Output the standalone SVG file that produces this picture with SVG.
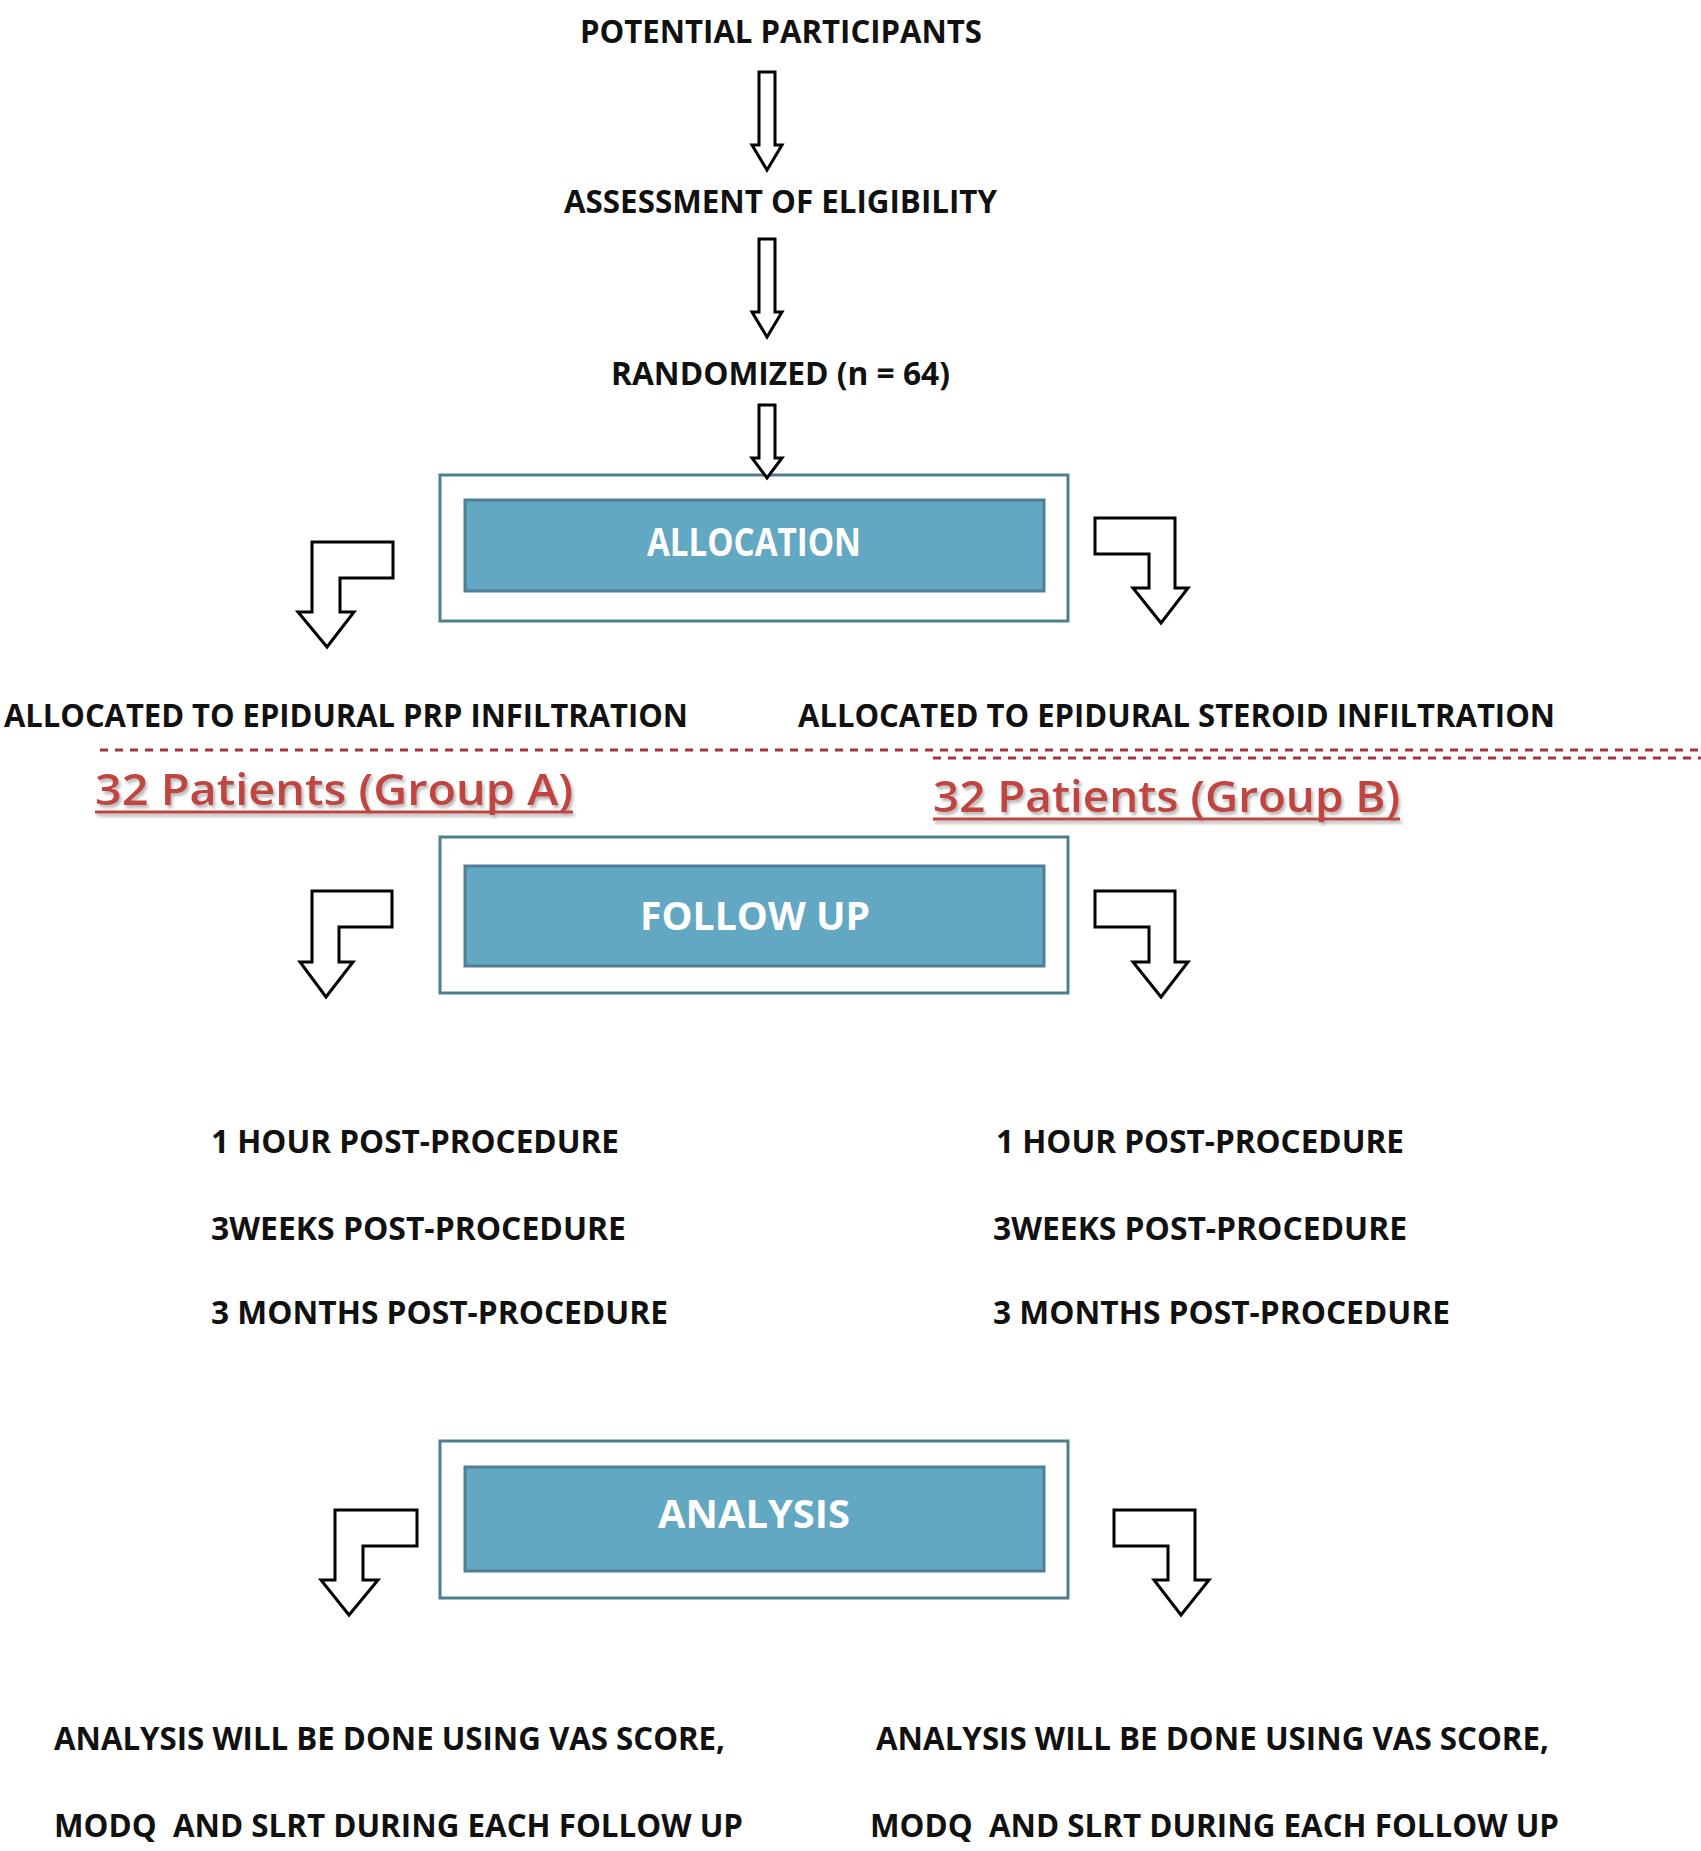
<svg xmlns="http://www.w3.org/2000/svg" width="1701" height="1851" viewBox="0 0 1701 1851">
<style>
.lbl{font-family:"Open Sans","Liberation Sans",sans-serif;font-weight:700;font-size:33px;fill:#111;white-space:pre}
.box-o{fill:#fff;stroke:#4e7f8c;stroke-width:3}
.box-i{fill:#62a8c2;stroke:#4f7f94;stroke-width:3}
.btxt{font-family:"Open Sans","Liberation Sans",sans-serif;font-weight:700;font-size:39px;fill:#fff}
.arr{fill:#fff;stroke:#000;stroke-width:3;stroke-linejoin:miter}
.dash{stroke:#a8323e;stroke-width:3;stroke-dasharray:8 7;fill:none}
.red{font-family:"Open Sans","Liberation Sans",sans-serif;font-weight:600;font-size:43px;fill:#c0443f}
.ul{stroke:#c0443f;stroke-width:3}
</style>
<defs>
<filter id="sh" x="-5%" y="-20%" width="110%" height="150%">
<feDropShadow dx="2" dy="3" stdDeviation="1.5" flood-color="#888" flood-opacity="0.6"/>
</filter>
</defs>
<rect width="1701" height="1851" fill="#fff"/>

<g id="potential"><text class="lbl" x="580" y="43" textLength="402" lengthAdjust="spacingAndGlyphs">POTENTIAL PARTICIPANTS</text></g>
<g id="assessment"><text class="lbl" x="564" y="213" textLength="433" lengthAdjust="spacingAndGlyphs">ASSESSMENT OF ELIGIBILITY</text></g>
<g id="randomized"><text class="lbl" x="611" y="385" textLength="339" lengthAdjust="spacingAndGlyphs">RANDOMIZED (n = 64)</text></g>

<g id="allocation">
<rect class="box-o" x="440" y="475" width="628" height="146"/>
<rect class="box-i" x="465" y="500" width="579" height="91"/>
<text class="btxt" x="647" y="556" textLength="214" lengthAdjust="spacingAndGlyphs">ALLOCATION</text>
</g>

<g id="groupA-label"><text class="lbl" x="4" y="727" textLength="684" lengthAdjust="spacingAndGlyphs">ALLOCATED TO EPIDURAL PRP INFILTRATION</text></g>
<g id="groupB-label"><text class="lbl" x="798" y="727" textLength="757" lengthAdjust="spacingAndGlyphs">ALLOCATED TO EPIDURAL STEROID INFILTRATION</text></g>

<g id="dashes">
<line class="dash" x1="100" y1="750" x2="1701" y2="750"/>
<line class="dash" x1="933" y1="758" x2="1701" y2="758"/>
</g>

<g id="groupA" filter="url(#sh)">
<text class="red" x="95" y="805" textLength="478" lengthAdjust="spacingAndGlyphs">32 Patients (Group A)</text>
<line class="ul" x1="95" y1="812" x2="573" y2="812"/>
</g>
<g id="groupB" filter="url(#sh)">
<text class="red" x="933" y="812" textLength="467" lengthAdjust="spacingAndGlyphs">32 Patients (Group B)</text>
<line class="ul" x1="933" y1="819" x2="1400" y2="819"/>
</g>

<g id="followup">
<rect class="box-o" x="440" y="837" width="628" height="156"/>
<rect class="box-i" x="465" y="866" width="579" height="100"/>
<text class="btxt" x="640" y="930" textLength="230" lengthAdjust="spacingAndGlyphs">FOLLOW UP</text>
</g>

<g id="times-A">
<text class="lbl" x="211" y="1153" textLength="408" lengthAdjust="spacingAndGlyphs">1 HOUR POST-PROCEDURE</text>
<text class="lbl" x="211" y="1240" textLength="415" lengthAdjust="spacingAndGlyphs">3WEEKS POST-PROCEDURE</text>
<text class="lbl" x="211" y="1324" textLength="457" lengthAdjust="spacingAndGlyphs">3 MONTHS POST-PROCEDURE</text>
</g>
<g id="times-B">
<text class="lbl" x="996" y="1153" textLength="408" lengthAdjust="spacingAndGlyphs">1 HOUR POST-PROCEDURE</text>
<text class="lbl" x="993" y="1240" textLength="414" lengthAdjust="spacingAndGlyphs">3WEEKS POST-PROCEDURE</text>
<text class="lbl" x="993" y="1324" textLength="457" lengthAdjust="spacingAndGlyphs">3 MONTHS POST-PROCEDURE</text>
</g>

<g id="analysis">
<rect class="box-o" x="440" y="1441" width="628" height="157"/>
<rect class="box-i" x="465" y="1467" width="579" height="104"/>
<text class="btxt" x="658" y="1528" textLength="192" lengthAdjust="spacingAndGlyphs">ANALYSIS</text>
</g>

<g id="analysis-A">
<text class="lbl" x="54" y="1750" textLength="671" lengthAdjust="spacingAndGlyphs">ANALYSIS WILL BE DONE USING VAS SCORE,</text>
<text class="lbl" x="54" y="1837" textLength="689" lengthAdjust="spacingAndGlyphs" xml:space="preserve">MODQ  AND SLRT DURING EACH FOLLOW UP</text>
</g>
<g id="analysis-B">
<text class="lbl" x="876" y="1750" textLength="673" lengthAdjust="spacingAndGlyphs">ANALYSIS WILL BE DONE USING VAS SCORE,</text>
<text class="lbl" x="870" y="1837" textLength="689" lengthAdjust="spacingAndGlyphs" xml:space="preserve">MODQ  AND SLRT DURING EACH FOLLOW UP</text>
</g>

<g id="connectors">
<path class="arr" d="M759,72 L775,72 L775,145 L782,145 L767,170 L752,145 L759,145 Z"/>
<path class="arr" d="M759,239 L775,239 L775,312 L782,312 L767,337 L752,312 L759,312 Z"/>
<path class="arr" d="M759,405 L775,405 L775,458 L782,458 L767,478 L752,458 L759,458 Z"/>
<path class="arr" d="M312,542 L393,542 L393,578 L340,578 L340,612 L354,612 L327,647 L298,612 L312,612 Z"/>
<path class="arr" d="M1095,518 L1175,518 L1175,588 L1188,588 L1161,623 L1133,588 L1149,588 L1149,554 L1095,554 Z"/>
<path class="arr" d="M312,891 L392,891 L392,927 L339,927 L339,962 L353,962 L326,997 L300,962 L312,962 Z"/>
<path class="arr" d="M1095,891 L1175,891 L1175,962 L1188,962 L1161,997 L1133,962 L1149,962 L1149,927 L1095,927 Z"/>
<path class="arr" d="M335,1510 L417,1510 L417,1546 L363,1546 L363,1580 L378,1580 L349,1615 L321,1580 L335,1580 Z"/>
<path class="arr" d="M1114,1510 L1195,1510 L1195,1580 L1209,1580 L1181,1615 L1154,1580 L1168,1580 L1168,1546 L1114,1546 Z"/>
</g>
</svg>
